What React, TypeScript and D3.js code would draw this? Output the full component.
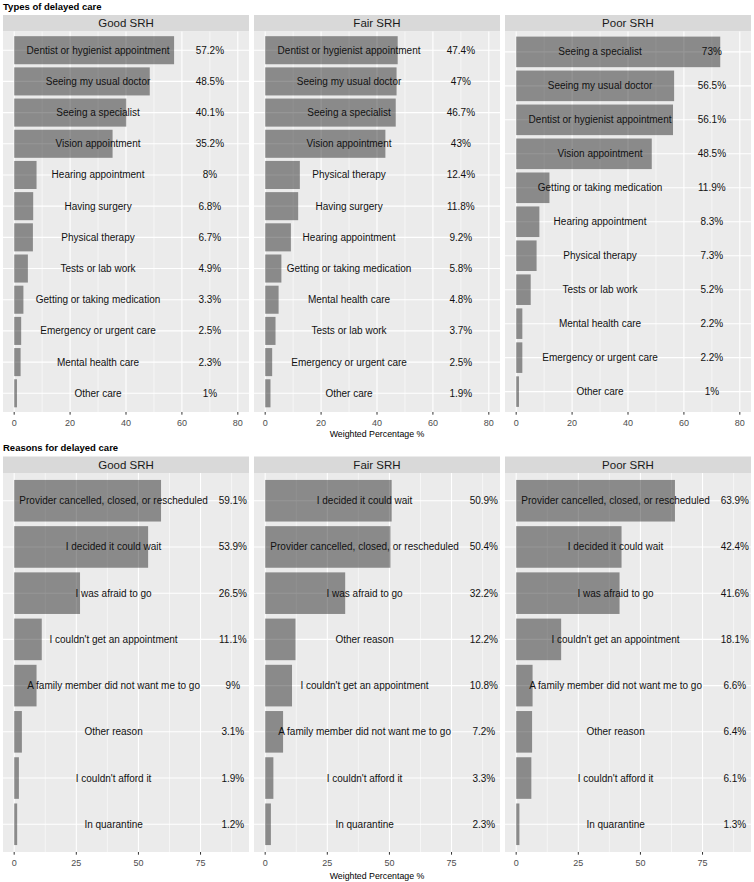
import React from "react";
import * as d3 from "d3";

// ---------- DATA ----------
const panelNames = ["Good SRH", "Fair SRH", "Poor SRH"];

const typesGoodCats = ["Dentist or hygienist appointment", "Seeing my usual doctor", "Seeing a specialist", "Vision appointment", "Hearing appointment", "Having surgery", "Physical therapy", "Tests or lab work", "Getting or taking medication", "Emergency or urgent care", "Mental health care", "Other care"];
const typesGoodVals = [57.2, 48.5, 40.1, 35.2, 8, 6.8, 6.7, 4.9, 3.3, 2.5, 2.3, 1];

const typesFairCats = ["Dentist or hygienist appointment", "Seeing my usual doctor", "Seeing a specialist", "Vision appointment", "Physical therapy", "Having surgery", "Hearing appointment", "Getting or taking medication", "Mental health care", "Tests or lab work", "Emergency or urgent care", "Other care"];
const typesFairVals = [47.4, 47, 46.7, 43, 12.4, 11.8, 9.2, 5.8, 4.8, 3.7, 2.5, 1.9];

const typesPoorCats = ["Seeing a specialist", "Seeing my usual doctor", "Dentist or hygienist appointment", "Vision appointment", "Getting or taking medication", "Hearing appointment", "Physical therapy", "Tests or lab work", "Mental health care", "Emergency or urgent care", "Other care"];
const typesPoorVals = [73, 56.5, 56.1, 48.5, 11.9, 8.3, 7.3, 5.2, 2.2, 2.2, 1];

const reasonsGoodCats = ["Provider cancelled, closed, or rescheduled", "I decided it could wait", "I was afraid to go", "I couldn't get an appointment", "A family member did not want me to go", "Other reason", "I couldn't afford it", "In quarantine"];
const reasonsGoodVals = [59.1, 53.9, 26.5, 11.1, 9, 3.1, 1.9, 1.2];

const reasonsFairCats = ["I decided it could wait", "Provider cancelled, closed, or rescheduled", "I was afraid to go", "Other reason", "I couldn't get an appointment", "A family member did not want me to go", "I couldn't afford it", "In quarantine"];
const reasonsFairVals = [50.9, 50.4, 32.2, 12.2, 10.8, 7.2, 3.3, 2.3];

const reasonsPoorCats = ["Provider cancelled, closed, or rescheduled", "I decided it could wait", "I was afraid to go", "I couldn't get an appointment", "A family member did not want me to go", "Other reason", "I couldn't afford it", "In quarantine"];
const reasonsPoorVals = [63.9, 42.4, 41.6, 18.1, 6.6, 6.4, 6.1, 1.3];

const typesTicks = [0, 20, 40, 60, 80];
const typesMinor = [10, 30, 50, 70];
const reasonsTicks = [0, 25, 50, 75];
const reasonsMinor = [12.5, 37.5, 62.5, 87.5];

const sectionTitles = ["Types of delayed care", "Reasons for delayed care"];
const axisTitle = "Weighted Percentage %";

// ---------- LAYOUT ----------
const W = 754;
const H = 882;
const FONT = "'Liberation Sans', Arial, Helvetica, sans-serif";
const panelX = [3, 254, 505];
const panelW = 246;

type PanelProps = {
  x0: number;
  top: number;
  bottom: number;
  name: string;
  cats: string[];
  vals: number[];
  domain: [number, number];
  ticks: number[];
  minor: number[];
  catX: number;
  pctX: number;
};

function Panel(p: PanelProps) {
  const stripH = 16.5;
  const plotTop = p.top + stripH;
  const x = d3.scaleLinear().domain(p.domain).range([p.x0, p.x0 + panelW]);
  const y = d3
    .scaleBand<string>()
    .domain(p.cats)
    .range([plotTop, p.bottom])
    .paddingInner(0.1)
    .paddingOuter(0.15);
  const bw = y.bandwidth();
  return (
    <g>
      <rect x={p.x0} y={p.top} width={panelW} height={stripH} fill="#D9D9D9" />
      <text x={p.x0 + panelW / 2} y={p.top + stripH / 2} dy="0.36em" textAnchor="middle" fontSize={11.5} fill="#1A1A1A" fontFamily={FONT}>
        {p.name}
      </text>
      <rect x={p.x0} y={plotTop} width={panelW} height={p.bottom - plotTop} fill="#EBEBEB" />
      {p.minor.map((t) => (
        <line key={"mi" + t} x1={x(t)} x2={x(t)} y1={plotTop} y2={p.bottom} stroke="#FFFFFF" strokeWidth={0.55} />
      ))}
      {p.ticks.map((t) => (
        <line key={"ma" + t} x1={x(t)} x2={x(t)} y1={plotTop} y2={p.bottom} stroke="#FFFFFF" strokeWidth={1.07} />
      ))}
      {p.cats.map((c) => (
        <line key={"hy" + c} x1={p.x0} x2={p.x0 + panelW} y1={(y(c) as number) + bw / 2} y2={(y(c) as number) + bw / 2} stroke="#FFFFFF" strokeWidth={1.07} />
      ))}
      {p.cats.map((c, i) => (
        <rect key={"b" + c} x={x(0)} y={y(c) as number} width={x(p.vals[i]) - x(0)} height={bw} fill="#000000" fillOpacity={0.41} />
      ))}
      {p.cats.map((c) => (
        <text key={"c" + c} x={x(p.catX)} y={(y(c) as number) + bw / 2} dy="0.35em" textAnchor="middle" fontSize={10} fill="#111" fontFamily={FONT}>
          {c}
        </text>
      ))}
      {p.cats.map((c, i) => (
        <text key={"v" + c} x={x(p.pctX)} y={(y(c) as number) + bw / 2} dy="0.35em" textAnchor="middle" fontSize={10} fill="#111" fontFamily={FONT}>
          {p.vals[i] + "%"}
        </text>
      ))}
      {p.ticks.map((t) => (
        <g key={"t" + t}>
          <line x1={x(t)} x2={x(t)} y1={p.bottom} y2={p.bottom + 2.7} stroke="#333333" strokeWidth={1} />
          <text x={x(t)} y={p.bottom + 10.5} dy="0.35em" textAnchor="middle" fontSize={9} fill="#4D4D4D" fontFamily={FONT}>
            {t}
          </text>
        </g>
      ))}
    </g>
  );
}

export default function App() {
  const typesCats = [typesGoodCats, typesFairCats, typesPoorCats];
  const typesVals = [typesGoodVals, typesFairVals, typesPoorVals];
  const reasonsCats = [reasonsGoodCats, reasonsFairCats, reasonsPoorCats];
  const reasonsVals = [reasonsGoodVals, reasonsFairVals, reasonsPoorVals];
  const midX = panelX[1] + panelW / 2;
  return (
    <div style={{ position: "absolute", left: 0, top: 0 }}>
      <svg width={W} height={H} style={{ display: "block", background: "#FFFFFF" }}>
        <rect x={0} y={0} width={W} height={H} fill="#FFFFFF" />
        <text x={3} y={6.5} dy="0.35em" fontSize={9.5} fontWeight="bold" fill="#000" fontFamily={FONT}>
          {sectionTitles[0]}
        </text>
        {panelNames.map((n, i) => (
          <Panel key={"T" + n} x0={panelX[i]} top={15} bottom={412} name={n} cats={typesCats[i]} vals={typesVals[i]} domain={[-4, 84]} ticks={typesTicks} minor={typesMinor} catX={30} pctX={70} />
        ))}
        <text x={midX} y={434} dy="0.35em" textAnchor="middle" fontSize={8.8} fill="#000" fontFamily={FONT}>
          {axisTitle}
        </text>
        <text x={3} y={448} dy="0.35em" fontSize={9.5} fontWeight="bold" fill="#000" fontFamily={FONT}>
          {sectionTitles[1]}
        </text>
        {panelNames.map((n, i) => (
          <Panel key={"R" + n} x0={panelX[i]} top={456.5} bottom={852} name={n} cats={reasonsCats[i]} vals={reasonsVals[i]} domain={[-4.5, 94.5]} ticks={reasonsTicks} minor={reasonsMinor} catX={40} pctX={88} />
        ))}
        <text x={midX} y={876} dy="0.35em" textAnchor="middle" fontSize={8.8} fill="#000" fontFamily={FONT}>
          {axisTitle}
        </text>
      </svg>
    </div>
  );
}
